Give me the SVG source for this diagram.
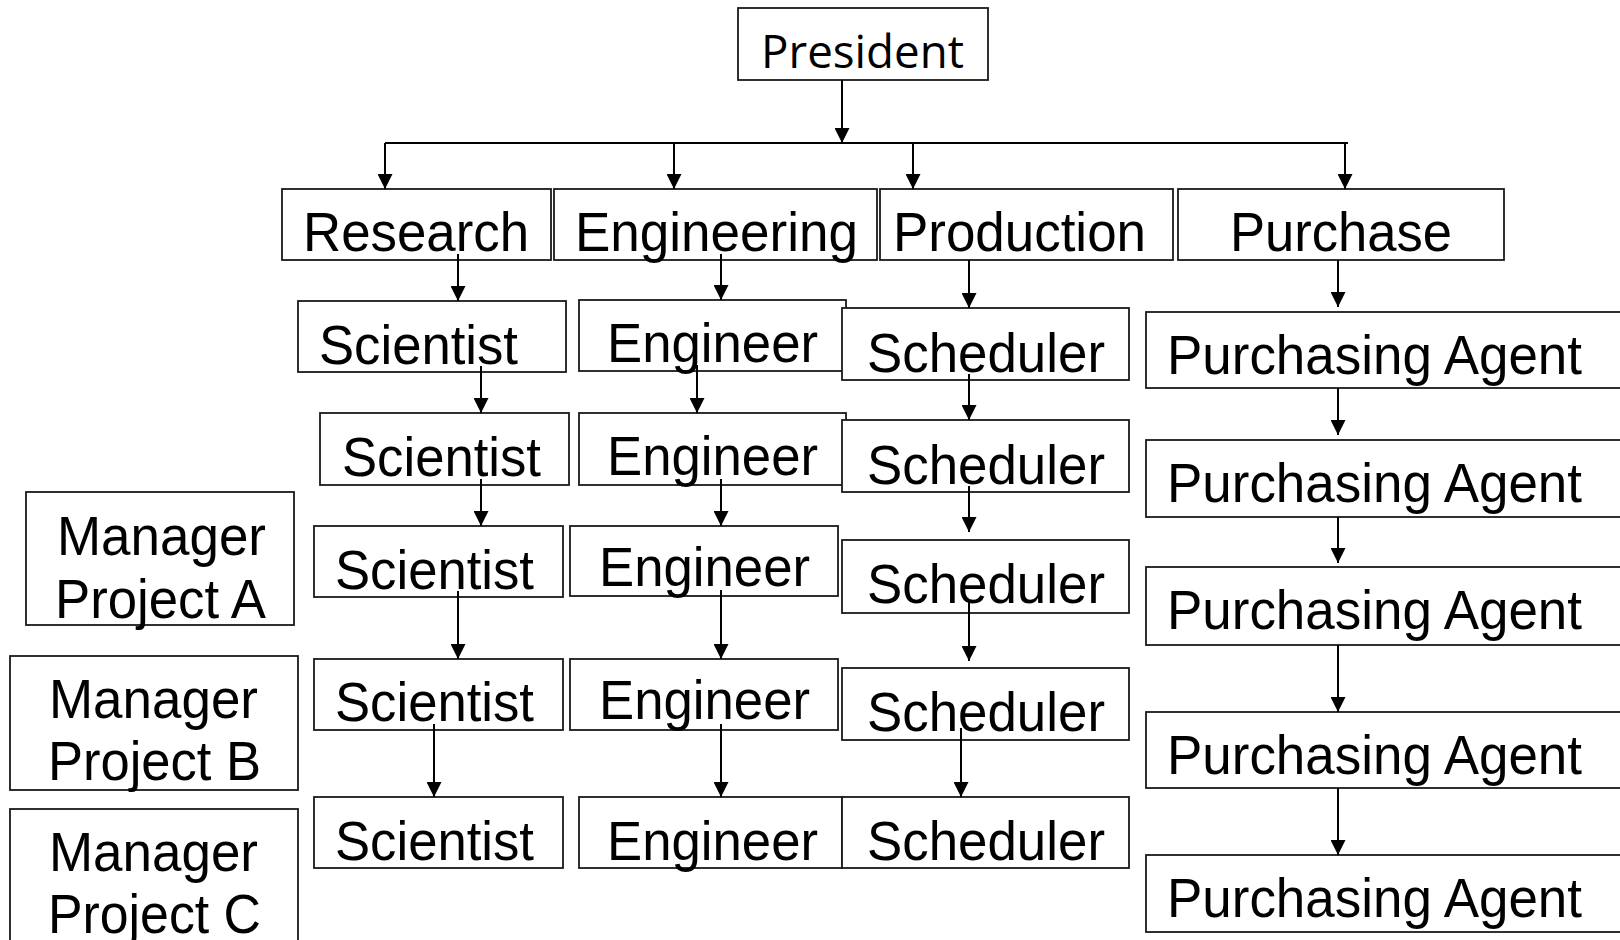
<svg xmlns="http://www.w3.org/2000/svg" width="1620" height="940" viewBox="0 0 1620 940">
<style>
  .box { fill: #fff; stroke: #1a1a1a; stroke-width: 1.8; }
  .t { font-family: "Liberation Sans", Arial, sans-serif; font-size: 56px; fill: #000; }
  .tp { font-family: "Open Sans", "Noto Sans", sans-serif; font-size: 45px; fill: #000; }
  .c { fill: none; stroke: #000; stroke-width: 2; }
</style>
<defs>
  <marker id="ah" markerUnits="userSpaceOnUse" markerWidth="15" markerHeight="15" refX="15" refY="7.5" orient="auto">
    <path d="M0,0 L15,7.5 L0,15 z" fill="#000"/>
  </marker>
</defs>
<rect width="1620" height="940" fill="#fff"/>

<g id="president"><rect class="box" x="738" y="8" width="250" height="72"/><text class="tp" x="761" y="68" textLength="203" lengthAdjust="spacingAndGlyphs">President</text></g>

<g id="research"><rect class="box" x="282" y="189" width="269" height="71"/><text class="t" x="303" y="251" textLength="226" lengthAdjust="spacingAndGlyphs">Research</text></g>
<g id="engineering"><rect class="box" x="554" y="189" width="323" height="71"/><text class="t" x="575" y="251" textLength="283" lengthAdjust="spacingAndGlyphs">Engineering</text></g>
<g id="production"><rect class="box" x="880" y="189" width="293" height="71"/><text class="t" x="893" y="251" textLength="253" lengthAdjust="spacingAndGlyphs">Production</text></g>
<g id="purchase"><rect class="box" x="1178" y="189" width="326" height="71"/><text class="t" x="1230" y="251" textLength="222" lengthAdjust="spacingAndGlyphs">Purchase</text></g>

<g id="scientist1"><rect class="box" x="298" y="301" width="268" height="71"/><text class="t" x="319" y="364" textLength="199" lengthAdjust="spacingAndGlyphs">Scientist</text></g>
<g id="scientist2"><rect class="box" x="320" y="413" width="249" height="72"/><text class="t" x="342" y="476" textLength="199" lengthAdjust="spacingAndGlyphs">Scientist</text></g>
<g id="scientist3"><rect class="box" x="314" y="526" width="249" height="71"/><text class="t" x="335" y="589" textLength="199" lengthAdjust="spacingAndGlyphs">Scientist</text></g>
<g id="scientist4"><rect class="box" x="314" y="659" width="249" height="71"/><text class="t" x="335" y="721" textLength="199" lengthAdjust="spacingAndGlyphs">Scientist</text></g>
<g id="scientist5"><rect class="box" x="314" y="797" width="249" height="71"/><text class="t" x="335" y="860" textLength="199" lengthAdjust="spacingAndGlyphs">Scientist</text></g>

<g id="engineer1"><rect class="box" x="579" y="300" width="267" height="71"/><text class="t" x="607" y="362" textLength="211" lengthAdjust="spacingAndGlyphs">Engineer</text></g>
<g id="engineer2"><rect class="box" x="579" y="413" width="267" height="72"/><text class="t" x="607" y="475" textLength="211" lengthAdjust="spacingAndGlyphs">Engineer</text></g>
<g id="engineer3"><rect class="box" x="570" y="526" width="268" height="70"/><text class="t" x="599" y="586" textLength="211" lengthAdjust="spacingAndGlyphs">Engineer</text></g>
<g id="engineer4"><rect class="box" x="570" y="659" width="268" height="71"/><text class="t" x="599" y="719" textLength="211" lengthAdjust="spacingAndGlyphs">Engineer</text></g>
<g id="engineer5"><rect class="box" x="579" y="797" width="263" height="71"/><text class="t" x="607" y="860" textLength="211" lengthAdjust="spacingAndGlyphs">Engineer</text></g>

<g id="scheduler1"><rect class="box" x="842" y="308" width="287" height="72"/><text class="t" x="867" y="372" textLength="238" lengthAdjust="spacingAndGlyphs">Scheduler</text></g>
<g id="scheduler2"><rect class="box" x="842" y="420" width="287" height="72"/><text class="t" x="867" y="484" textLength="238" lengthAdjust="spacingAndGlyphs">Scheduler</text></g>
<g id="scheduler3"><rect class="box" x="842" y="540" width="287" height="73"/><text class="t" x="867" y="603" textLength="238" lengthAdjust="spacingAndGlyphs">Scheduler</text></g>
<g id="scheduler4"><rect class="box" x="842" y="668" width="287" height="72"/><text class="t" x="867" y="731" textLength="238" lengthAdjust="spacingAndGlyphs">Scheduler</text></g>
<g id="scheduler5"><rect class="box" x="842" y="797" width="287" height="71"/><text class="t" x="867" y="860" textLength="238" lengthAdjust="spacingAndGlyphs">Scheduler</text></g>

<g id="agent1"><rect class="box" x="1146" y="312" width="490" height="76"/><text class="t" x="1167" y="374" textLength="415" lengthAdjust="spacingAndGlyphs">Purchasing Agent</text></g>
<g id="agent2"><rect class="box" x="1146" y="440" width="490" height="77"/><text class="t" x="1167" y="502" textLength="415" lengthAdjust="spacingAndGlyphs">Purchasing Agent</text></g>
<g id="agent3"><rect class="box" x="1146" y="567" width="490" height="78"/><text class="t" x="1167" y="629" textLength="415" lengthAdjust="spacingAndGlyphs">Purchasing Agent</text></g>
<g id="agent4"><rect class="box" x="1146" y="712" width="490" height="76"/><text class="t" x="1167" y="774" textLength="415" lengthAdjust="spacingAndGlyphs">Purchasing Agent</text></g>
<g id="agent5"><rect class="box" x="1146" y="855" width="490" height="77"/><text class="t" x="1167" y="917" textLength="415" lengthAdjust="spacingAndGlyphs">Purchasing Agent</text></g>

<g id="managerA"><rect class="box" x="26" y="492" width="268" height="133"/><text class="t" x="57" y="555" textLength="209" lengthAdjust="spacingAndGlyphs">Manager</text><text class="t" x="55" y="618" textLength="211" lengthAdjust="spacingAndGlyphs">Project A</text></g>
<g id="managerB"><rect class="box" x="10" y="656" width="288" height="134"/><text class="t" x="49" y="718" textLength="209" lengthAdjust="spacingAndGlyphs">Manager</text><text class="t" x="48" y="780" textLength="213" lengthAdjust="spacingAndGlyphs">Project B</text></g>
<g id="managerC"><rect class="box" x="10" y="809" width="288" height="140"/><text class="t" x="49" y="871" textLength="209" lengthAdjust="spacingAndGlyphs">Manager</text><text class="t" x="48" y="933" textLength="213" lengthAdjust="spacingAndGlyphs">Project C</text></g>

<g id="connectors">
  <path class="c" d="M842,80 V143" marker-end="url(#ah)"/>
  <path class="c" d="M385,143 H1348"/>
  <path class="c" d="M385,143 V189" marker-end="url(#ah)"/>
  <path class="c" d="M674,143 V189" marker-end="url(#ah)"/>
  <path class="c" d="M913,143 V189" marker-end="url(#ah)"/>
  <path class="c" d="M1345,143 V189" marker-end="url(#ah)"/>

  <path class="c" d="M458,254 V301" marker-end="url(#ah)"/>
  <path class="c" d="M481,366 V413" marker-end="url(#ah)"/>
  <path class="c" d="M481,479 V526" marker-end="url(#ah)"/>
  <path class="c" d="M458,591 V659" marker-end="url(#ah)"/>
  <path class="c" d="M434,724 V797" marker-end="url(#ah)"/>

  <path class="c" d="M721,254 V300" marker-end="url(#ah)"/>
  <path class="c" d="M697,365 V413" marker-end="url(#ah)"/>
  <path class="c" d="M721,479 V526" marker-end="url(#ah)"/>
  <path class="c" d="M721,590 V659" marker-end="url(#ah)"/>
  <path class="c" d="M721,724 V797" marker-end="url(#ah)"/>

  <path class="c" d="M969,260 V308" marker-end="url(#ah)"/>
  <path class="c" d="M969,374 V420" marker-end="url(#ah)"/>
  <path class="c" d="M969,486 V532" marker-end="url(#ah)"/>
  <path class="c" d="M969,600 V661" marker-end="url(#ah)"/>
  <path class="c" d="M961,728 V797" marker-end="url(#ah)"/>

  <path class="c" d="M1338,260 V307" marker-end="url(#ah)"/>
  <path class="c" d="M1338,388 V435" marker-end="url(#ah)"/>
  <path class="c" d="M1338,517 V563" marker-end="url(#ah)"/>
  <path class="c" d="M1338,645 V712" marker-end="url(#ah)"/>
  <path class="c" d="M1338,788 V855" marker-end="url(#ah)"/>
</g>
</svg>
